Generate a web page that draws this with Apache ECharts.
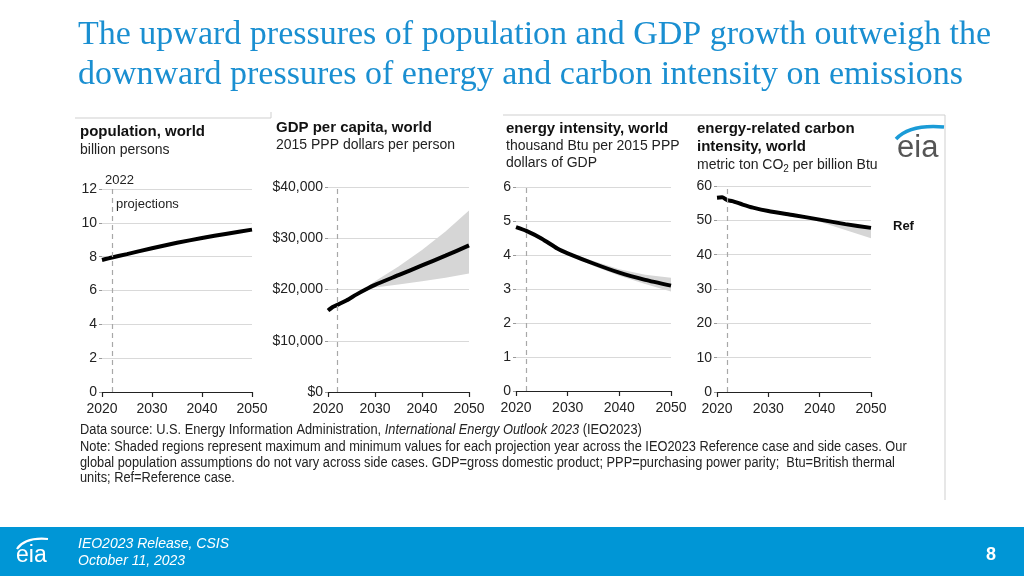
<!DOCTYPE html>
<html>
<head>
<meta charset="utf-8">
<script src="https://cdn.jsdelivr.net/npm/echarts@6/dist/echarts.min.js"></script>
<style>
html,body{margin:0;padding:0;background:#fff;}
#c{width:1024px;height:576px;}
</style>
</head>
<body>
<div id="c"></div>
<script>
// ---- data ----
const xTicks = [2020, 2030, 2040, 2050];
const projectionYear = 2022;

const popYears = [2020, 2022, 2025, 2030, 2035, 2040, 2045, 2050];
const popValues = [7.8, 7.95, 8.15, 8.5, 8.82, 9.1, 9.36, 9.6];

const gdpYears = [2020, 2021, 2022, 2024, 2026, 2028, 2030, 2035, 2040, 2045, 2050];
const gdpValues = [15900, 16600, 17000, 17900, 19000, 20000, 20900, 22800, 24700, 26600, 28600];
const gdpBandYears = [2026, 2030, 2035, 2040, 2045, 2050];
const gdpLow = [19000, 20400, 21000, 21600, 22300, 23100];
const gdpHigh = [19000, 21600, 24500, 27700, 31300, 35400];

const eiYears = [2020, 2022, 2025, 2028, 2030, 2035, 2040, 2045, 2050];
const eiValues = [4.82, 4.71, 4.48, 4.19, 4.05, 3.75, 3.48, 3.27, 3.1];
const eiBandYears = [2028, 2030, 2035, 2040, 2045, 2050];
const eiLow = [4.19, 4.03, 3.68, 3.39, 3.15, 2.93];
const eiHigh = [4.19, 4.08, 3.82, 3.58, 3.42, 3.33];

const ciYears = [2020, 2021, 2022, 2023, 2025, 2027, 2030, 2035, 2040, 2045, 2050];
const ciValues = [56.6, 56.7, 55.9, 55.6, 54.6, 53.7, 52.7, 51.5, 50.2, 48.9, 47.8];
const ciBandYears = [2036, 2040, 2045, 2050];
const ciLow = [51.2, 49.6, 47.2, 44.8];
const ciHigh = [51.2, 50.4, 49.2, 48.3];

const yMax = [12, 40000, 6, 60];
const yStep = [2, 10000, 1, 10];

// ---- layout ----
const grids = [
  {left: 102, top: 189, width: 150, height: 203},
  {left: 328, top: 187, width: 141, height: 205},
  {left: 516, top: 187, width: 155, height: 204},
  {left: 717, top: 186, width: 154, height: 206}
];
const SANS = '"Liberation Sans", Arial, sans-serif';

const pair = (xs, ys) => xs.map((x, i) => [x, ys[i]]);

const xAxes = grids.map((g, i) => ({
  type: 'value', gridIndex: i, min: 2020, max: 2050, interval: 10,
  axisLine: {show: true, lineStyle: {color: '#222', width: 1.2}},
  axisTick: {show: true, length: 5, lineStyle: {color: '#222', width: 1.2}},
  splitLine: {show: false},
  axisLabel: {fontFamily: SANS, fontSize: 14, color: '#222', margin: 10, formatter: v => String(v)}
}));
const yAxes = grids.map((g, i) => ({
  type: 'value', gridIndex: i, min: 0, max: yMax[i], interval: yStep[i],
  axisLine: {show: false},
  axisTick: {show: true, length: 3, lineStyle: {color: '#999'}},
  splitLine: {show: true, lineStyle: {color: '#d9d9d9', width: 1}},
  axisLabel: {fontFamily: SANS, fontSize: 14, color: '#222', margin: 5,
    formatter: i === 1 ? (v => '$' + v.toLocaleString('en-US')) : (v => String(v))}
}));

function bandSeries(i, years, low, high) {
  return {
    type: 'custom', xAxisIndex: i, yAxisIndex: i, silent: true, z: 1,
    data: years.map((y, k) => [y, low[k], high[k]]),
    encode: {x: 0, y: [1, 2]},
    renderItem: function (params, api) {
      if (params.dataIndexInside !== 0) return null;
      const n = params.dataInsideLength;
      const up = [], dn = [];
      for (let k = 0; k < n; k++) {
        up.push(api.coord([api.value(0, k), api.value(2, k)]));
        dn.push(api.coord([api.value(0, k), api.value(1, k)]));
      }
      return {type: 'polygon', shape: {points: up.concat(dn.reverse())}, style: {fill: '#d6d6d6'}};
    }
  };
}
function mainSeries(i, years, vals) {
  return {
    type: 'line', xAxisIndex: i, yAxisIndex: i, data: pair(years, vals),
    symbol: 'none', smooth: 0.2, lineStyle: {color: '#000', width: 4}, z: 3,
    markLine: {symbol: 'none', silent: true, label: {show: false},
      lineStyle: {color: '#a8a8a8', type: [5, 4], width: 1.2},
      data: [{xAxis: projectionYear}]}
  };
}

const series = [
  mainSeries(0, popYears, popValues),
  bandSeries(1, gdpBandYears, gdpLow, gdpHigh),
  mainSeries(1, gdpYears, gdpValues),
  bandSeries(2, eiBandYears, eiLow, eiHigh),
  mainSeries(2, eiYears, eiValues),
  bandSeries(3, ciBandYears, ciLow, ciHigh),
  mainSeries(3, ciYears, ciValues)
];

function txt(x, y, text, font, fill, extra) {
  return Object.assign({type: 'text', x: x, y: y, silent: true,
    style: {text: text, font: font, fill: fill, textVerticalAlign: 'middle'}}, extra || {});
}
const NOTE_SCALE = 0.915;
const TITLE_FONT = '34px "Liberation Serif", "Times New Roman", serif';
const graphic = [
  // title
  txt(78, 35, 'The upward pressures of population and GDP growth outweigh the', TITLE_FONT, '#1a8fd1'),
  txt(78, 75, 'downward pressures of energy and carbon intensity on emissions', TITLE_FONT, '#1a8fd1'),
  // frame lines
  {type: 'line', silent: true, shape: {x1: 75, y1: 118, x2: 271, y2: 118}, style: {stroke: '#cfcfcf', lineWidth: 1}},
  {type: 'line', silent: true, shape: {x1: 271, y1: 112, x2: 271, y2: 118}, style: {stroke: '#cfcfcf', lineWidth: 1}},
  {type: 'line', silent: true, shape: {x1: 503, y1: 115, x2: 945, y2: 115}, style: {stroke: '#cfcfcf', lineWidth: 1}},
  {type: 'line', silent: true, shape: {x1: 945, y1: 115, x2: 945, y2: 500}, style: {stroke: '#cfcfcf', lineWidth: 1}},
  // panel headers
  txt(80, 132, 'population, world', 'bold 15px ' + SANS, '#111'),
  txt(80, 150, 'billion persons', '14px ' + SANS, '#222'),
  txt(276, 128, 'GDP per capita, world', 'bold 15px ' + SANS, '#111'),
  txt(276, 145, '2015 PPP dollars per person', '14px ' + SANS, '#222'),
  txt(506, 129, 'energy intensity, world', 'bold 15px ' + SANS, '#111'),
  txt(506, 146, 'thousand Btu per 2015 PPP', '14px ' + SANS, '#222'),
  txt(506, 163, 'dollars of GDP', '14px ' + SANS, '#222'),
  txt(697, 129, 'energy-related carbon', 'bold 15px ' + SANS, '#111'),
  txt(697, 147, 'intensity, world', 'bold 15px ' + SANS, '#111'),
  {type: 'text', x: 697, y: 165, silent: true, style: {
    text: 'metric ton CO{sub|2} per billion Btu', font: '14px ' + SANS, fill: '#222', textVerticalAlign: 'middle',
    rich: {sub: {fontSize: 10, fontFamily: SANS, fill: '#222', padding: [8, 0, 0, 0]}}}},
  // population annotations
  txt(105, 180, '2022', '13px ' + SANS, '#222'),
  txt(116, 204, 'projections', '13px ' + SANS, '#222'),
  // Ref label
  txt(893, 226, 'Ref', 'bold 13px ' + SANS, '#111'),
  // eia logo top right
  txt(897, 148, 'eia', '31px ' + SANS, '#555'),
  {type: 'bezierCurve', silent: true, shape: {x1: 896, y1: 139, cpx1: 910, cpy1: 124, x2: 944, y2: 127}, style: {stroke: '#1a9bd7', lineWidth: 3.5, fill: null}},
  // footnote
  {type: 'text', x: 80, y: 430, scaleX: NOTE_SCALE, silent: true, style: {
    text: 'Data source: U.S. Energy Information Administration, {i|International Energy Outlook 2023} (IEO2023)',
    font: '14px ' + SANS, fill: '#222', textVerticalAlign: 'middle',
    rich: {i: {fontStyle: 'italic', fontSize: 14, fontFamily: SANS, fill: '#222'}}}},
  txt(80, 447, 'Note: Shaded regions represent maximum and minimum values for each projection year across the IEO2023 Reference case and side cases. Our', '14px ' + SANS, '#222', {scaleX: NOTE_SCALE}),
  txt(80, 463, 'global population assumptions do not vary across side cases. GDP=gross domestic product; PPP=purchasing power parity;  Btu=British thermal', '14px ' + SANS, '#222', {scaleX: NOTE_SCALE}),
  txt(80, 478, 'units; Ref=Reference case.', '14px ' + SANS, '#222', {scaleX: NOTE_SCALE}),
  // footer band
  {type: 'rect', silent: true, shape: {x: 0, y: 527, width: 1024, height: 49}, style: {fill: '#0096d6'}, z: -1},
  txt(78, 544, 'IEO2023 Release, CSIS', 'italic 14px ' + SANS, '#fff'),
  txt(78, 561, 'October 11, 2023', 'italic 14px ' + SANS, '#fff'),
  txt(986, 555, '8', 'bold 18px ' + SANS, '#fff'),
  txt(16, 556, 'eia', '23px ' + SANS, '#fff'),
  {type: 'bezierCurve', silent: true, shape: {x1: 17, y1: 549, cpx1: 25, cpy1: 537, x2: 48, y2: 539}, style: {stroke: '#fff', lineWidth: 2.2, fill: null}}
];

const chart = echarts.init(document.getElementById('c'), null, {renderer: 'canvas'});
chart.setOption({
  backgroundColor: '#fff',
  animation: false,
  grid: grids,
  xAxis: xAxes,
  yAxis: yAxes,
  series: series,
  graphic: graphic
});
</script>
</body>
</html>
